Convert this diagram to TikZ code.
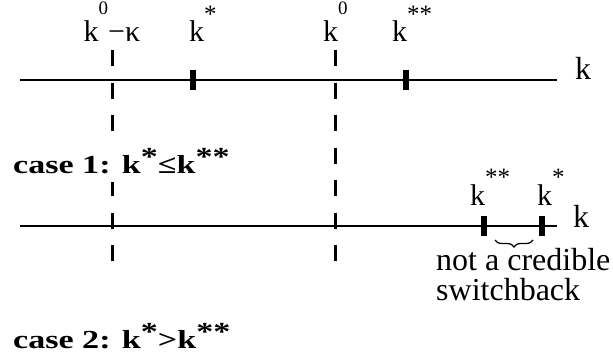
\documentclass[tikz,border=0pt]{standalone}
\usepackage{fontspec}
\setmainfont{Liberation Serif}
\usetikzlibrary{decorations.pathreplacing}
\newcommand{\kup}[1]{k\raisebox{.92em}{\fontsize{19}{19}\selectfont #1}}
\newcommand{\kstar}[1]{k\raisebox{.64em}{\fontsize{25}{25}\selectfont #1}}
\newcommand{\kst}[1]{k\raisebox{.28em}{#1}}
\newcommand{\wide}[1]{\scalebox{1.31}[1]{#1}}
\begin{document}
\begin{tikzpicture}[x=1pt,y=-1pt,
  axis/.style={line width=2.6pt},
  guide/.style={line width=3pt,dash pattern=on 16pt off 16.5pt},
  tickmark/.style={line width=6pt},
  lab/.style={font=\fontsize{30}{30}\selectfont,inner sep=0pt},
  casetxt/.style={font=\fontsize{26}{26}\selectfont\bfseries,inner xsep=2pt,inner ysep=9pt,fill=white}]
  \useasboundingbox (0,0) rectangle (613,361);
  % dashed guides
  \draw[guide] (112,50) -- (112,262);
  \draw[guide] (335,50) -- (335,262);
  % the two k axes
  \coordinate (L1) at (20,80);
  \coordinate (R1) at (557,80);
  \coordinate (L2) at (20,226);
  \coordinate (R2) at (557,226);
  \draw[axis] (L1) -- (R1);
  \draw[axis] (L2) -- (R2);
  \draw[tickmark] (193,70) -- (193,90);
  \draw[tickmark] (406,70) -- (406,90);
  \draw[tickmark] (484,216) -- (484,236);
  \draw[tickmark] (542,216) -- (542,236);
  % labels, case 1
  \node[lab,anchor=base] (kdiff) at (112,42) {\kup{0}−κ};
  \node[lab,anchor=base west] (kstar1) at (189,42) {\kstar{*}};
  \node[lab,anchor=base west] (knull) at (323,42) {\kup{0}};
  \node[lab,anchor=base west] (kss1) at (392,42) {\kstar{**}};
  \node[lab,anchor=base west,font=\fontsize{32}{32}\selectfont] (kaxis1) at (575,80) {k};
  \node[casetxt,anchor=base west] (case1) at (11,173) {\wide{case 1: \kst{*}≤\kst{**}}};
  % labels, case 2
  \node[lab,anchor=base west] (kss2) at (470,205) {\kstar{**}};
  \node[lab,anchor=base west] (kstar2) at (537,205) {\kstar{*}};
  \node[lab,anchor=base west,font=\fontsize{32}{32}\selectfont] (kaxis2) at (573,227) {k};
  \draw[decorate,decoration={brace,mirror,amplitude=7pt},line width=1.2pt] (495,240) -- (533,240);
  \node[lab,anchor=base west,font=\fontsize{32}{32}\selectfont] (note1) at (436,270) {not a credible};
  \node[lab,anchor=base west,font=\fontsize{32}{32}\selectfont] (note2) at (436,300) {switchback};
  \node[casetxt,anchor=base west] (case2) at (11,348) {\wide{case 2: \kst{*}>\kst{**}}};
\end{tikzpicture}
\end{document}
